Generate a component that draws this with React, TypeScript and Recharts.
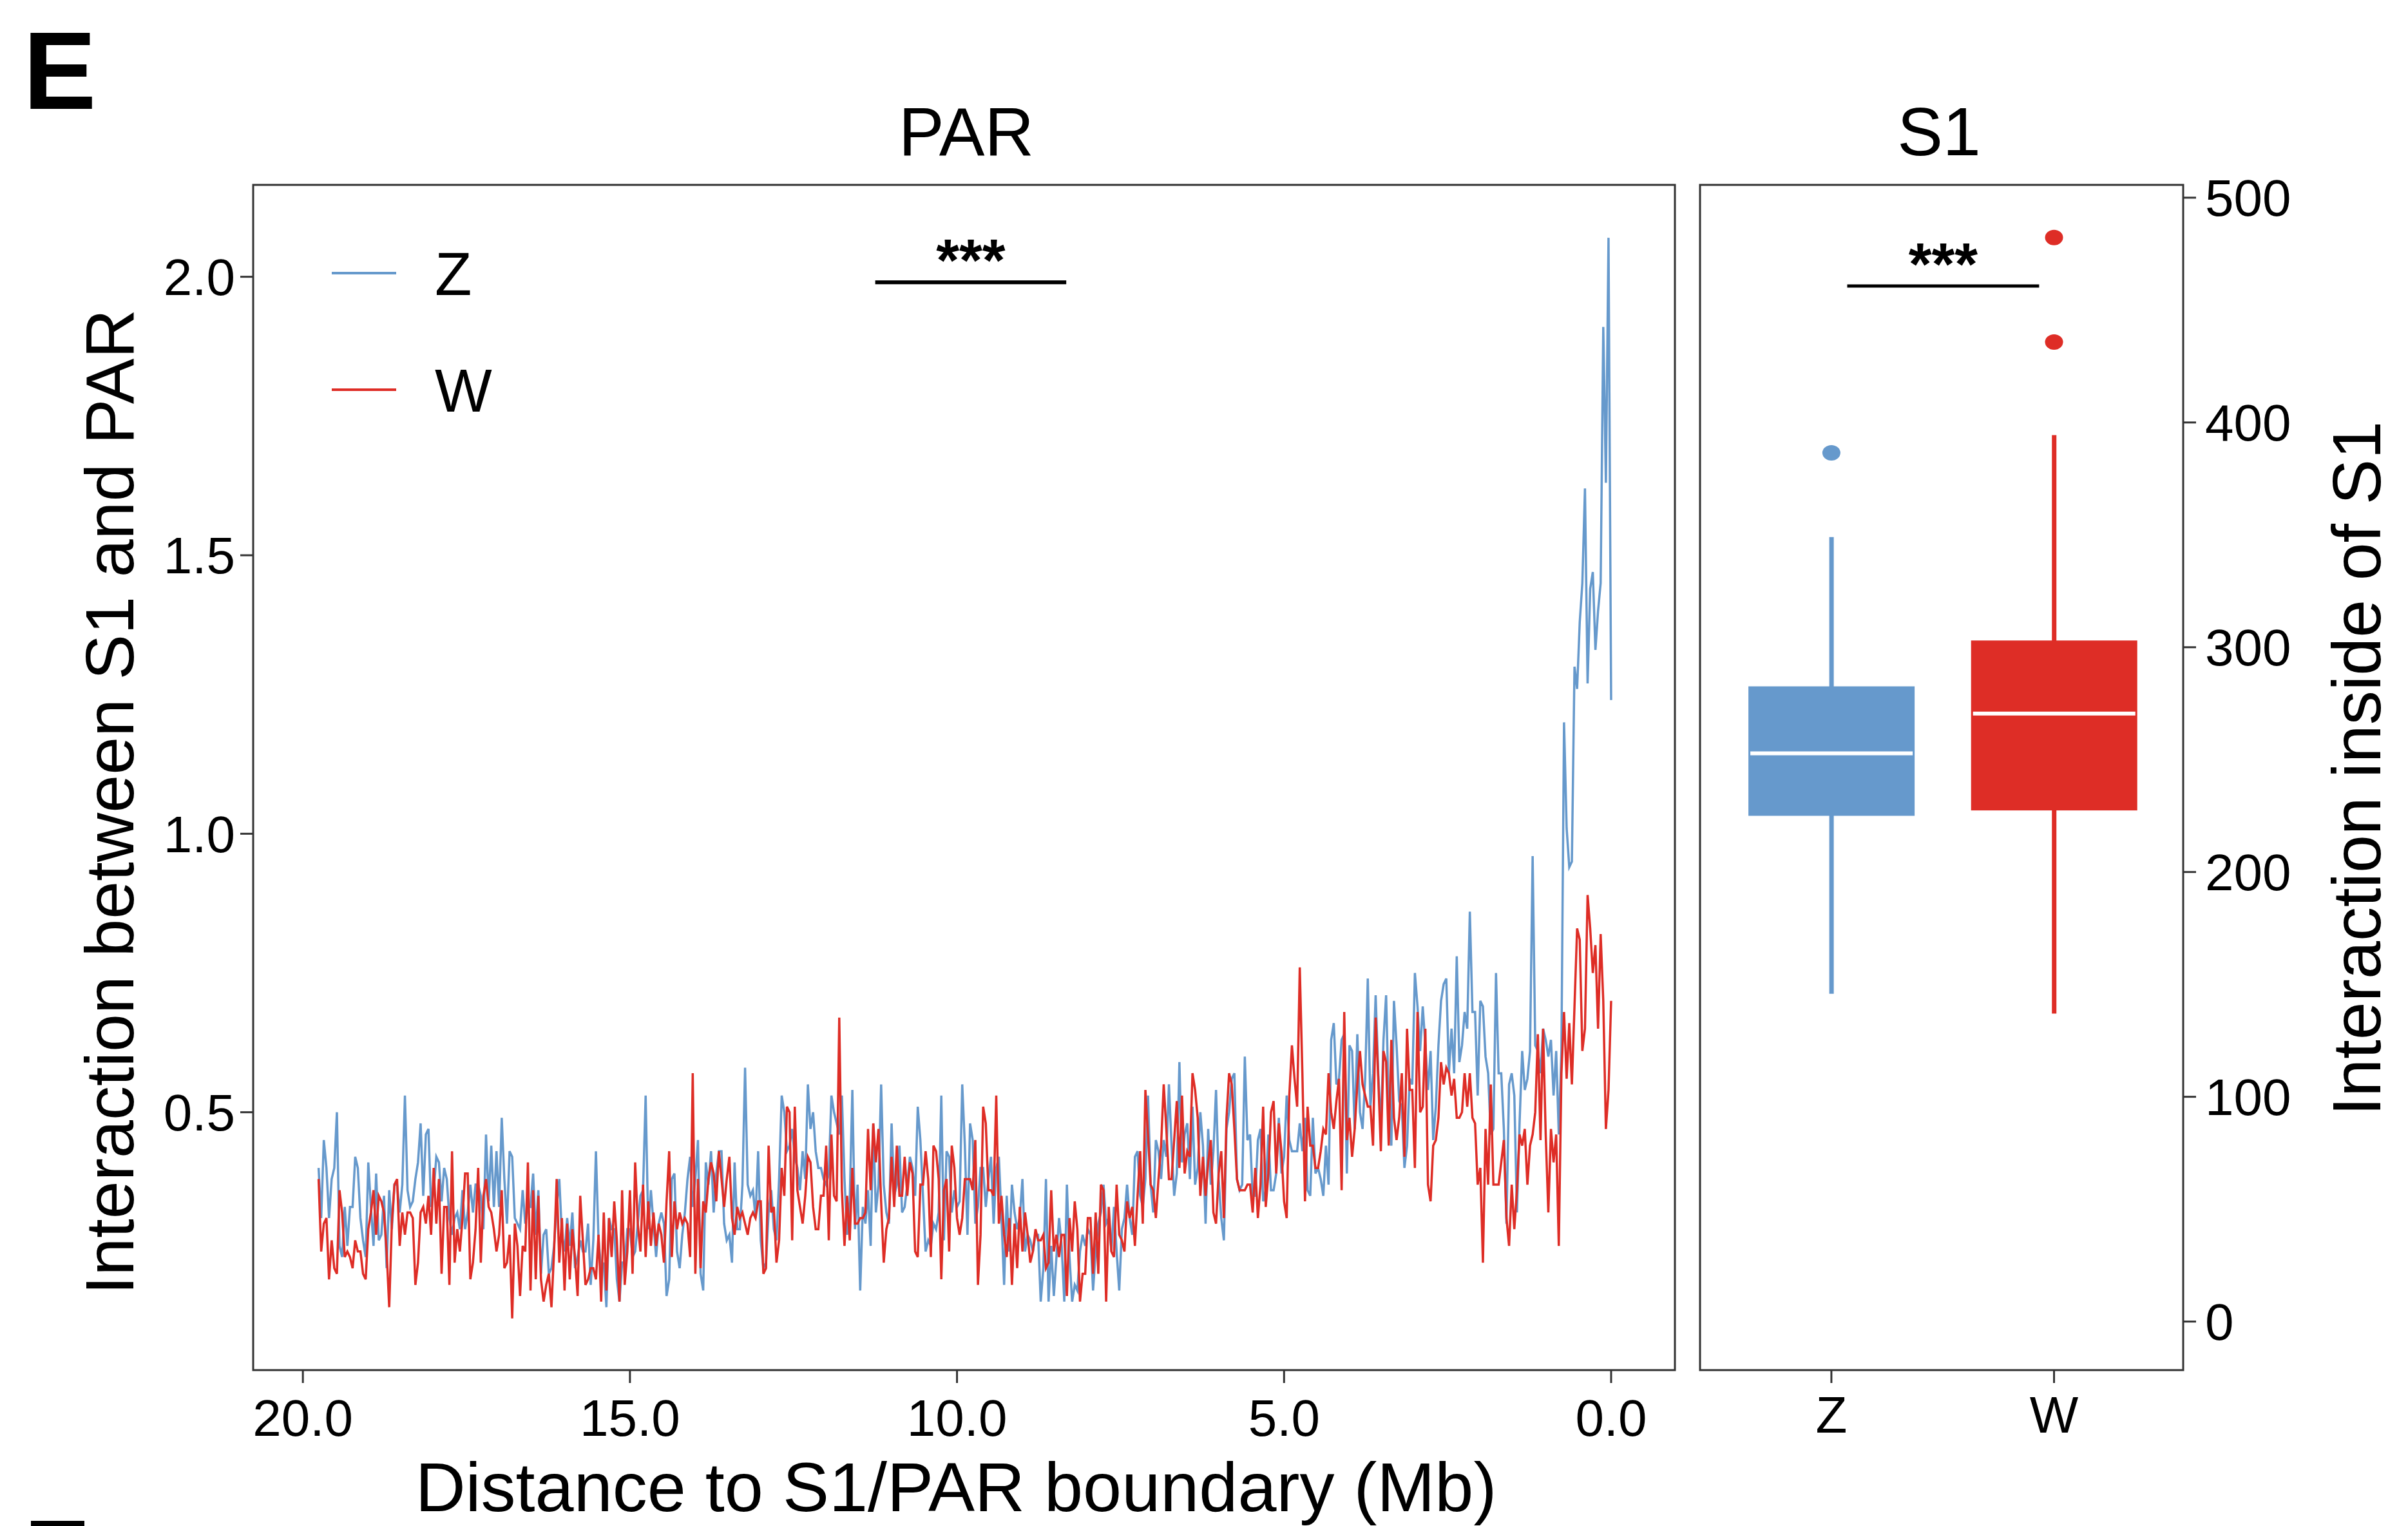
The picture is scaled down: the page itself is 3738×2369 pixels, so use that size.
import React from 'react';
import {
  LineChart,
  ComposedChart,
  Line,
  Bar,
  Scatter,
  XAxis,
  YAxis,
  Legend,
  Label,
  ReferenceLine,
  ReferenceArea,
} from 'recharts';

const FONT = '"Liberation Sans", Arial, Helvetica, sans-serif';
const BLUE = '#6699CC';
const RED = '#DE2D26';
const AXIS = '#333333';

// ---- PAR panel: interaction between S1 and PAR, 40 kb bins ----
const START_MB = 19.76;
const BIN_MB = 0.04;
const SERIES = ['Z', 'W'];

const Z_VALUES = [
  // 19.76 - 16.56 Mb
  0.40, 0.31, 0.45, 0.40, 0.31, 0.38, 0.40, 0.50, 0.26, 0.24,
  0.33, 0.26, 0.33, 0.33, 0.42, 0.40, 0.31, 0.27, 0.24, 0.41,
  0.33, 0.26, 0.39, 0.27, 0.28, 0.35, 0.22, 0.36, 0.29, 0.37,
  0.37, 0.32, 0.37, 0.53, 0.36, 0.33, 0.34, 0.38, 0.41, 0.48,
  0.35, 0.46, 0.47, 0.33, 0.36, 0.42, 0.41, 0.34, 0.40, 0.38,
  0.31, 0.28, 0.31, 0.32, 0.29, 0.36, 0.29, 0.32, 0.37, 0.32,
  0.37, 0.37, 0.35, 0.29, 0.46, 0.34, 0.44, 0.33, 0.43, 0.33,
  0.49, 0.38, 0.30, 0.43, 0.42, 0.31, 0.30, 0.29, 0.36, 0.30,
  0.33,
  // 16.52 - 13.04 Mb
  0.33, 0.39, 0.28, 0.36, 0.21, 0.28, 0.29, 0.21, 0.22, 0.26,
  0.33, 0.38, 0.28, 0.25, 0.31, 0.26, 0.32, 0.22, 0.24, 0.27,
  0.25, 0.25, 0.30, 0.19, 0.27, 0.43, 0.27, 0.22, 0.23, 0.15,
  0.31, 0.29, 0.29, 0.20, 0.16, 0.23, 0.23, 0.29, 0.29, 0.24,
  0.25, 0.30, 0.35, 0.36, 0.53, 0.29, 0.36, 0.30, 0.24, 0.30,
  0.32, 0.30, 0.17, 0.20, 0.38, 0.39, 0.25, 0.22, 0.28, 0.32,
  0.38, 0.42, 0.33, 0.38, 0.45, 0.21, 0.18, 0.41, 0.37, 0.43,
  0.32, 0.39, 0.43, 0.43, 0.30, 0.27, 0.28, 0.23, 0.41, 0.29,
  0.29, 0.37, 0.58, 0.37, 0.35, 0.36, 0.31, 0.43,
  // 13.00 - 9.52 Mb
  0.27, 0.22, 0.23, 0.32, 0.36, 0.29, 0.27, 0.38, 0.53, 0.50,
  0.43, 0.44, 0.47, 0.42, 0.40, 0.36, 0.43, 0.38, 0.55, 0.47,
  0.50, 0.43, 0.40, 0.40, 0.38, 0.37, 0.39, 0.53, 0.50, 0.48,
  0.46, 0.53, 0.38, 0.28, 0.34, 0.54, 0.29, 0.37, 0.18, 0.33,
  0.30, 0.36, 0.26, 0.48, 0.32, 0.37, 0.55, 0.37, 0.32, 0.30,
  0.48, 0.35, 0.37, 0.44, 0.32, 0.33, 0.37, 0.42, 0.40, 0.35,
  0.51, 0.45, 0.35, 0.25, 0.27, 0.26, 0.30, 0.29, 0.32, 0.53,
  0.27, 0.43, 0.42, 0.32, 0.36, 0.33, 0.34, 0.55, 0.44, 0.28,
  0.48, 0.45, 0.30, 0.33, 0.40, 0.40, 0.33, 0.38,
  // 9.48 - 5.96 Mb
  0.42, 0.30, 0.40, 0.42, 0.31, 0.19, 0.35, 0.25, 0.37, 0.32,
  0.29, 0.31, 0.38, 0.25, 0.28, 0.27, 0.25, 0.28, 0.28, 0.16,
  0.22, 0.38, 0.16, 0.26, 0.17, 0.24, 0.31, 0.26, 0.16, 0.37,
  0.24, 0.16, 0.19, 0.18, 0.25, 0.28, 0.26, 0.29, 0.28, 0.18,
  0.25, 0.30, 0.32, 0.37, 0.30, 0.31, 0.25, 0.33, 0.25, 0.18,
  0.29, 0.31, 0.37, 0.31, 0.28, 0.42, 0.43, 0.35, 0.33, 0.38,
  0.53, 0.37, 0.32, 0.45, 0.43, 0.38, 0.45, 0.42, 0.55, 0.44,
  0.35, 0.39, 0.59, 0.41, 0.46, 0.48, 0.38, 0.51, 0.37, 0.40,
  0.50, 0.44, 0.30, 0.47, 0.37, 0.43, 0.54, 0.38, 0.31,
  // 5.92 - 2.52 Mb
  0.27, 0.47, 0.50, 0.56, 0.57, 0.38, 0.36, 0.37, 0.60, 0.45,
  0.46, 0.35, 0.35, 0.45, 0.47, 0.34, 0.36, 0.46, 0.36, 0.36,
  0.39, 0.49, 0.39, 0.42, 0.53, 0.45, 0.43, 0.43, 0.43, 0.48,
  0.43, 0.49, 0.36, 0.35, 0.49, 0.39, 0.40, 0.38, 0.35, 0.44,
  0.37, 0.63, 0.66, 0.55, 0.56, 0.63, 0.64, 0.39, 0.62, 0.61,
  0.47, 0.64, 0.50, 0.47, 0.56, 0.74, 0.51, 0.57, 0.71, 0.57,
  0.47, 0.63, 0.71, 0.51, 0.44, 0.70, 0.62, 0.52, 0.51, 0.40,
  0.44, 0.56, 0.55, 0.75, 0.69, 0.61, 0.69, 0.62, 0.54, 0.61,
  0.45, 0.51, 0.62, 0.70, 0.73, 0.74,
  // 2.48 - 0.00 Mb
  0.57, 0.65, 0.57, 0.78, 0.59, 0.62, 0.68, 0.65, 0.86, 0.68,
  0.68, 0.53, 0.70, 0.69, 0.60, 0.57, 0.46, 0.47, 0.75, 0.57,
  0.57, 0.47, 0.30, 0.55, 0.57, 0.53, 0.32, 0.48, 0.61, 0.54,
  0.56, 0.61, 0.96, 0.62, 0.61, 0.57, 0.65, 0.63, 0.60, 0.63,
  0.53, 0.61, 0.46, 0.61, 1.20, 1.01, 0.94, 0.95, 1.30, 1.26,
  1.38, 1.45, 1.62, 1.27, 1.44, 1.47, 1.33, 1.40, 1.45, 1.91,
  1.63, 2.07, 1.24,
];

const W_VALUES = [
  // 19.76 - 16.56 Mb
  0.38, 0.25, 0.30, 0.31, 0.20, 0.27, 0.22, 0.21, 0.36, 0.32,
  0.24, 0.25, 0.24, 0.22, 0.27, 0.25, 0.25, 0.21, 0.20, 0.29,
  0.32, 0.36, 0.28, 0.35, 0.34, 0.32, 0.25, 0.15, 0.30, 0.37,
  0.38, 0.26, 0.32, 0.28, 0.32, 0.32, 0.31, 0.19, 0.23, 0.32,
  0.33, 0.30, 0.35, 0.28, 0.40, 0.30, 0.38, 0.21, 0.33, 0.33,
  0.19, 0.43, 0.23, 0.29, 0.25, 0.31, 0.39, 0.39, 0.20, 0.23,
  0.29, 0.40, 0.23, 0.35, 0.38, 0.33, 0.32, 0.29, 0.25, 0.28,
  0.36, 0.22, 0.23, 0.28, 0.13, 0.30, 0.26, 0.17, 0.26, 0.25,
  0.41,
  // 16.52 - 13.04 Mb
  0.18, 0.36, 0.20, 0.35, 0.20, 0.16, 0.19, 0.21, 0.15, 0.25,
  0.38, 0.23, 0.31, 0.18, 0.30, 0.20, 0.29, 0.24, 0.17, 0.35,
  0.27, 0.19, 0.20, 0.22, 0.22, 0.20, 0.28, 0.16, 0.32, 0.18,
  0.31, 0.24, 0.34, 0.27, 0.16, 0.36, 0.19, 0.25, 0.36, 0.21,
  0.41, 0.30, 0.25, 0.37, 0.24, 0.34, 0.26, 0.32, 0.26, 0.30,
  0.28, 0.23, 0.34, 0.43, 0.24, 0.34, 0.29, 0.32, 0.30, 0.31,
  0.30, 0.24, 0.57, 0.21, 0.38, 0.22, 0.34, 0.32, 0.38, 0.41,
  0.39, 0.34, 0.43, 0.38, 0.33, 0.38, 0.42, 0.31, 0.28, 0.33,
  0.31, 0.32, 0.30, 0.28, 0.31, 0.32, 0.31, 0.34,
  // 13.00 - 9.52 Mb
  0.34, 0.21, 0.22, 0.44, 0.32, 0.33, 0.23, 0.27, 0.40, 0.35,
  0.51, 0.50, 0.27, 0.51, 0.36, 0.33, 0.30, 0.35, 0.42, 0.41,
  0.33, 0.29, 0.29, 0.35, 0.35, 0.44, 0.27, 0.46, 0.35, 0.34,
  0.67, 0.36, 0.26, 0.35, 0.27, 0.40, 0.30, 0.30, 0.31, 0.31,
  0.32, 0.47, 0.36, 0.48, 0.41, 0.47, 0.34, 0.23, 0.29, 0.31,
  0.42, 0.33, 0.44, 0.35, 0.35, 0.42, 0.35, 0.41, 0.39, 0.25,
  0.24, 0.37, 0.37, 0.43, 0.38, 0.24, 0.44, 0.43, 0.38, 0.20,
  0.36, 0.38, 0.25, 0.44, 0.40, 0.31, 0.28, 0.31, 0.38, 0.38,
  0.38, 0.36, 0.45, 0.19, 0.28, 0.51, 0.48, 0.36,
  // 9.48 - 5.96 Mb
  0.36, 0.35, 0.53, 0.30, 0.35, 0.28, 0.24, 0.31, 0.19, 0.30,
  0.22, 0.33, 0.25, 0.32, 0.28, 0.23, 0.25, 0.29, 0.27, 0.27,
  0.28, 0.22, 0.23, 0.36, 0.25, 0.28, 0.24, 0.28, 0.28, 0.17,
  0.31, 0.25, 0.34, 0.29, 0.16, 0.21, 0.21, 0.31, 0.31, 0.21,
  0.32, 0.21, 0.37, 0.36, 0.16, 0.33, 0.25, 0.24, 0.37, 0.28,
  0.27, 0.25, 0.34, 0.31, 0.33, 0.26, 0.35, 0.43, 0.30, 0.54,
  0.46, 0.37, 0.36, 0.31, 0.38, 0.44, 0.55, 0.47, 0.38, 0.38,
  0.45, 0.52, 0.40, 0.53, 0.39, 0.43, 0.42, 0.57, 0.54, 0.49,
  0.35, 0.42, 0.35, 0.41, 0.45, 0.32, 0.30, 0.39, 0.43,
  // 5.92 - 2.52 Mb
  0.31, 0.49, 0.57, 0.55, 0.47, 0.38, 0.36, 0.36, 0.36, 0.37,
  0.37, 0.32, 0.40, 0.31, 0.37, 0.51, 0.33, 0.39, 0.50, 0.52,
  0.39, 0.48, 0.43, 0.34, 0.31, 0.53, 0.62, 0.56, 0.51, 0.76,
  0.57, 0.34, 0.51, 0.44, 0.44, 0.40, 0.40, 0.43, 0.47, 0.46,
  0.57, 0.50, 0.47, 0.52, 0.56, 0.36, 0.68, 0.45, 0.49, 0.42,
  0.47, 0.55, 0.61, 0.55, 0.53, 0.51, 0.51, 0.44, 0.67, 0.56,
  0.43, 0.61, 0.59, 0.44, 0.63, 0.49, 0.45, 0.49, 0.57, 0.42,
  0.65, 0.54, 0.54, 0.40, 0.68, 0.50, 0.51, 0.65, 0.37, 0.34,
  0.44, 0.45, 0.49, 0.59, 0.55, 0.58,
  // 2.48 - 0.00 Mb
  0.57, 0.53, 0.56, 0.49, 0.49, 0.50, 0.57, 0.51, 0.57, 0.49,
  0.48, 0.37, 0.40, 0.23, 0.47, 0.37, 0.55, 0.37, 0.37, 0.37,
  0.41, 0.45, 0.31, 0.26, 0.37, 0.29, 0.36, 0.46, 0.44, 0.47,
  0.37, 0.44, 0.46, 0.50, 0.64, 0.45, 0.65, 0.46, 0.32, 0.47,
  0.41, 0.46, 0.26, 0.57, 0.68, 0.56, 0.66, 0.55, 0.69, 0.83,
  0.81, 0.61, 0.65, 0.89, 0.83, 0.75, 0.80, 0.65, 0.82, 0.70,
  0.47, 0.54, 0.70,
];

const PAR_X_TICKS = [20, 15, 10, 5, 0];
const PAR_Y_TICKS = [0.5, 1.0, 1.5, 2.0];
const PAR_X_DOMAIN: [number, number] = [-0.975, 20.76];
const PAR_Y_DOMAIN: [number, number] = [0.037, 2.165];
const PAR_SIG = { from: 11.25, to: 8.33, y: 1.99 };

// ---- S1 panel: interaction inside of S1 (box plot) ----
const BOX_GROUPS = ['Z', 'W'];
const BOX_COLORS = [BLUE, RED];
const BOX_LOWER = [145.8, 137.0];
const BOX_Q1 = [225.0, 227.4];
const BOX_MEDIAN = [252.8, 270.5];
const BOX_Q3 = [282.6, 303.0];
const BOX_UPPER = [349.0, 394.4];
const OUTLIER_GROUPS = ['Z', 'W', 'W'];
const OUTLIER_VALUES = [386.5, 482.3, 435.8];
const S1_Y_TICKS = [0, 100, 200, 300, 400, 500];
const S1_X_DOMAIN: [number, number] = [0.41, 2.58];
const S1_Y_DOMAIN: [number, number] = [-21.6, 505.7];
const S1_SIG = { from: 1.071, to: 1.933, y: 460.7 };

const n = Math.min(Z_VALUES.length, W_VALUES.length);
const parData = Z_VALUES.slice(0, n).map((z, i) => ({
  mb: Number((START_MB - i * BIN_MB).toFixed(2)),
  Z: z,
  W: W_VALUES[i],
}));

const boxData = BOX_GROUPS.map((g, i) => ({
  pos: i + 1,
  group: g,
  whisker: [BOX_LOWER[i], BOX_UPPER[i]],
  q1: BOX_Q1[i],
  median: BOX_MEDIAN[i],
  q3: BOX_Q3[i],
  color: BOX_COLORS[i],
}));

const outlierData = OUTLIER_VALUES.map((v, i) => {
  const idx = BOX_GROUPS.indexOf(OUTLIER_GROUPS[i]);
  return { pos: idx + 1, value: v, color: BOX_COLORS[idx] };
});

// layout (px)
const CHART_H = 2369;
const PAR_W = 2620;
const S1_W = 1118;
const TOP = 287;
const AXIS_H = 242;

const tickStyle = { fill: '#000', fontSize: 80, fontFamily: FONT };
const tickLineStyle = { stroke: AXIS, strokeWidth: 3 };

const starLabel = (props: any) => {
  const vb = props.viewBox || {};
  const cx = (vb.x ?? 0) + (vb.width ?? 0) / 2;
  return (
    <text x={cx} y={(vb.y ?? 0) - 2} textAnchor="middle" fontSize={92} fontWeight="bold" fontFamily={FONT} fill="#000">
      ***
    </text>
  );
};

const renderLegend = (props: any) => {
  const items = [...(props.payload || [])].sort(
    (a: any, b: any) => SERIES.indexOf(a.value) - SERIES.indexOf(b.value),
  );
  return (
    <svg width={400} height={330}>
      {items.map((entry: any, k: number) => {
        const cy = 74 + k * 181;
        return (
          <g key={entry.value}>
            <line x1={15} x2={115} y1={cy} y2={cy} stroke={entry.color} strokeWidth={4} />
            <text x={175} y={cy + 34} fontSize={94} fontFamily={FONT} fill="#000">
              {entry.value}
            </text>
          </g>
        );
      })}
    </svg>
  );
};

const renderBox = (props: any) => {
  const { x, y, width, height, payload } = props;
  if (!payload) return <g />;
  const [lo, hi] = payload.whisker;
  const top = Math.min(y, y + height);
  const span = Math.abs(height);
  const py = (v: number) => top + ((hi - v) / (hi - lo)) * span;
  const cx = x + width / 2;
  return (
    <g>
      <line x1={cx} x2={cx} y1={py(hi)} y2={py(lo)} stroke={payload.color} strokeWidth={7} />
      <rect x={x} y={py(payload.q3)} width={width} height={py(payload.q1) - py(payload.q3)} fill={payload.color} />
      <line x1={x + 3} x2={x + width - 3} y1={py(payload.median)} y2={py(payload.median)} stroke="#fff" strokeWidth={6} />
    </g>
  );
};

const renderOutlier = (props: any) => (
  <ellipse cx={props.cx} cy={props.cy} rx={14} ry={12} fill={props.payload?.color} />
);

function ParPanel() {
  return (
    <LineChart width={PAR_W} height={CHART_H} data={parData} margin={{ top: TOP, right: 20, bottom: 0, left: 0 }}>
      <XAxis
        type="number"
        dataKey="mb"
        domain={PAR_X_DOMAIN}
        reversed
        allowDataOverflow
        ticks={PAR_X_TICKS}
        interval={0}
        tickFormatter={(v: number) => v.toFixed(1)}
        height={AXIS_H}
        axisLine={false}
        tickLine={tickLineStyle}
        tickSize={20}
        tickMargin={25}
        tick={tickStyle}
      >
        <Label
          content={() => (
            <text x={1484} y={2346} textAnchor="middle" fontSize={108} fontFamily={FONT} fill="#000">
              Distance to S1/PAR boundary (Mb)
            </text>
          )}
        />
      </XAxis>
      <YAxis
        type="number"
        domain={PAR_Y_DOMAIN}
        allowDataOverflow
        ticks={PAR_Y_TICKS}
        interval={0}
        tickFormatter={(v: number) => v.toFixed(1)}
        width={393}
        axisLine={false}
        tickLine={tickLineStyle}
        tickSize={20}
        tickMargin={8}
        tick={tickStyle}
      >
        <Label
          content={() => (
            <text
              x={207}
              y={1245}
              transform="rotate(-90 207 1245)"
              textAnchor="middle"
              fontSize={106}
              fontFamily={FONT}
              fill="#000"
            >
              Interaction between S1 and PAR
            </text>
          )}
        />
      </YAxis>
      <Line type="linear" dataKey="Z" stroke={BLUE} strokeWidth={3.5} dot={false} isAnimationActive={false} />
      <Line type="linear" dataKey="W" stroke={RED} strokeWidth={3.5} dot={false} isAnimationActive={false} />
      <ReferenceLine
        segment={[
          { x: PAR_SIG.from, y: PAR_SIG.y },
          { x: PAR_SIG.to, y: PAR_SIG.y },
        ]}
        stroke="#000"
        strokeWidth={6}
        label={starLabel}
      />
      <ReferenceArea
        x1={PAR_X_DOMAIN[0]}
        x2={PAR_X_DOMAIN[1]}
        y1={PAR_Y_DOMAIN[0]}
        y2={PAR_Y_DOMAIN[1]}
        fill="none"
        fillOpacity={0}
        stroke={AXIS}
        strokeWidth={3}
        ifOverflow="visible"
      />
      <Legend
        layout="horizontal"
        verticalAlign="middle"
        align="center"
        content={renderLegend}
        wrapperStyle={{ left: 500, top: 350, width: 400, height: 330 }}
      />
    </LineChart>
  );
}

function S1Panel() {
  return (
    <ComposedChart width={S1_W} height={CHART_H} data={boxData} margin={{ top: TOP, right: 0, bottom: 0, left: 19 }}>
      <XAxis
        type="number"
        dataKey="pos"
        domain={S1_X_DOMAIN}
        allowDataOverflow
        ticks={[1, 2]}
        interval={0}
        tickFormatter={(v: number) => BOX_GROUPS[Math.round(v) - 1] ?? ''}
        height={AXIS_H}
        axisLine={false}
        tickLine={tickLineStyle}
        tickSize={20}
        tickMargin={20}
        tick={tickStyle}
      />
      <YAxis
        type="number"
        orientation="right"
        domain={S1_Y_DOMAIN}
        allowDataOverflow
        ticks={S1_Y_TICKS}
        interval={0}
        width={349}
        axisLine={false}
        tickLine={tickLineStyle}
        tickSize={20}
        tickMargin={14}
        tick={tickStyle}
      >
        <Label
          content={() => (
            <text
              x={1075}
              y={1193}
              transform="rotate(-90 1075 1193)"
              textAnchor="middle"
              fontSize={106}
              fontFamily={FONT}
              fill="#000"
            >
              Interaction inside of S1
            </text>
          )}
        />
      </YAxis>
      <Bar dataKey="whisker" barSize={258} shape={renderBox} isAnimationActive={false} />
      <Scatter data={outlierData} dataKey="value" shape={renderOutlier} isAnimationActive={false} />
      <ReferenceLine
        segment={[
          { x: S1_SIG.from, y: S1_SIG.y },
          { x: S1_SIG.to, y: S1_SIG.y },
        ]}
        stroke="#000"
        strokeWidth={5}
        label={starLabel}
      />
      <ReferenceArea
        x1={S1_X_DOMAIN[0]}
        x2={S1_X_DOMAIN[1]}
        y1={S1_Y_DOMAIN[0]}
        y2={S1_Y_DOMAIN[1]}
        fill="none"
        fillOpacity={0}
        stroke={AXIS}
        strokeWidth={3}
        ifOverflow="visible"
      />
    </ComposedChart>
  );
}

export default function App() {
  return (
    <div
      style={{
        position: 'absolute',
        left: 0,
        top: 0,
        width: 3738,
        height: CHART_H,
        background: '#fff',
        overflow: 'hidden',
        fontFamily: FONT,
      }}
    >
      <svg width={3738} height={CHART_H} style={{ position: 'absolute', left: 0, top: 0 }}>
        <text x={36} y={169} fontSize={170} fontWeight="bold" fontFamily={FONT} fill="#000">
          E
        </text>
        <text x={1500} y={241} textAnchor="middle" fontSize={106} fontFamily={FONT} fill="#000">
          PAR
        </text>
        <text x={3010} y={241} textAnchor="middle" fontSize={106} fontFamily={FONT} fill="#000">
          S1
        </text>
        <rect x={48} y={2361} width={83} height={8} fill="#000" />
      </svg>
      <div style={{ position: 'absolute', left: 0, top: 0 }}>
        <ParPanel />
      </div>
      <div style={{ position: 'absolute', left: PAR_W, top: 0 }}>
        <S1Panel />
      </div>
    </div>
  );
}
